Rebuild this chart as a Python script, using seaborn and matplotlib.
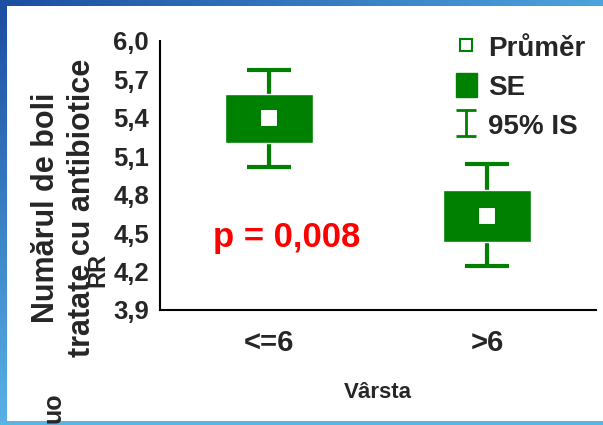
import numpy as np
import matplotlib
matplotlib.use("Agg")
import matplotlib.pyplot as plt
import seaborn as sns
from matplotlib.lines import Line2D
from matplotlib.patches import Patch
from matplotlib.path import Path

# Datos
grupos = ["<=6", ">6"]
media = [5.40, 4.63]
se_bajo = [5.20, 4.43]
se_alto = [5.59, 4.84]
ic_bajo = [5.02, 4.24]
ic_alto = [5.77, 5.04]
yticks = [3.9, 4.2, 4.5, 4.8, 5.1, 5.4, 5.7, 6.0]

verde = "#008000"

sns.set_style("white")
plt.rcParams["font.family"] = ["Liberation Sans", "DejaVu Sans"]
plt.rcParams["font.weight"] = "bold"

fig = plt.figure(figsize=(6.03, 4.25), dpi=100)
ax = fig.add_axes([160 / 603, 1 - 310 / 425, 436 / 603, 269 / 425])

# barras del fondo (diapositiva)
top = fig.add_axes([0, 1 - 6 / 425, 1, 6 / 425])
top.imshow(np.linspace(0, 1, 256)[None, :], aspect="auto",
           cmap=matplotlib.colors.LinearSegmentedColormap.from_list("t", ["#1c4ea2", "#4da3dd"]))
top.axis("off")
izq = fig.add_axes([0, 0, 7 / 603, 1 - 6 / 425])
izq.imshow(np.linspace(0, 1, 256)[:, None], aspect="auto",
           cmap=matplotlib.colors.LinearSegmentedColormap.from_list("l", ["#1c4ea2", "#58b2e6"]))
izq.axis("off")
abajo = fig.add_axes([0, 0, 1, 4 / 425])
abajo.set_facecolor("#5ab4e6")
abajo.set_xticks([])
abajo.set_yticks([])
for s in abajo.spines.values():
    s.set_visible(False)

# IC 95%
yerr = [np.array(media) - np.array(ic_bajo), np.array(ic_alto) - np.array(media)]
ax.errorbar(grupos, media, yerr=yerr, fmt="none", ecolor=verde, elinewidth=3,
            capsize=16, capthick=3, zorder=1)
# SE
ax.bar(grupos, np.array(se_alto) - np.array(se_bajo), bottom=se_bajo, width=0.4,
       color=verde, zorder=2)
# media
sns.scatterplot(x=grupos, y=media, marker="s", s=170, color="white",
                edgecolor=verde, linewidth=1.5, zorder=3, ax=ax)

ax.set_xlim(-0.5, 1.5)
ax.set_ylim(3.9, 6.0)
ax.set_yticks(yticks)
ax.set_yticklabels([f"{v:.1f}".replace(".", ",") for v in yticks])
sns.despine(ax=ax)
for s in ["left", "bottom"]:
    ax.spines[s].set_linewidth(1.5)
    ax.spines[s].set_color("black")
ax.tick_params(axis="y", direction="in", length=5, width=1.2, labelsize=18.5, pad=8)
ax.tick_params(axis="x", direction="in", length=5, width=1.2, labelsize=21, pad=14)
ax.set_xlabel("Vârsta", fontsize=16, fontweight="bold", labelpad=18)
ax.set_ylabel("")

fig.text(64 / 603, 1 - 208 / 425, "Numărul de boli\ntratate cu antibiotice",
         rotation=90, ha="center", va="center", fontsize=22, fontweight="bold",
         linespacing=1.3)
fig.text(98 / 603, 1 - 270 / 425, "RR", rotation=90, ha="center", va="center",
         fontsize=17, fontweight="bold")
fig.text(54 / 603, 1 - 408 / 425, "uo", rotation=90, ha="center", va="center",
         fontsize=18, fontweight="bold")

ax.text(0.291, 0.268, "p = 0,008", transform=ax.transAxes, ha="center", va="center",
        color="red", fontsize=25, fontweight="bold")

# leyenda
ibeam = Path([(-0.75, -1), (0.75, -1), (0, -1), (0, 1), (-0.75, 1), (0.75, 1)],
             [Path.MOVETO, Path.LINETO, Path.MOVETO, Path.LINETO, Path.MOVETO, Path.LINETO])
handles = [
    Line2D([], [], marker="s", ls="none", ms=9, mfc="white", mec=verde, mew=1.5),
    Patch(facecolor=verde, edgecolor=verde),
    Line2D([], [], marker=ibeam, ls="none", ms=19, mec=verde, mew=2),
]
leg = fig.legend(handles, ["Průměr", "SE", "95% IS"], loc="upper left",
                 bbox_to_anchor=(456 / 603, 1 - 34 / 425), frameon=False,
                 prop={"size": 20, "weight": "bold"}, handlelength=0.75,
                 handleheight=0.95, handletextpad=0.4, labelspacing=0.42,
                 borderpad=0, borderaxespad=0)

plt.savefig("out.png", dpi=100)
plt.close()
